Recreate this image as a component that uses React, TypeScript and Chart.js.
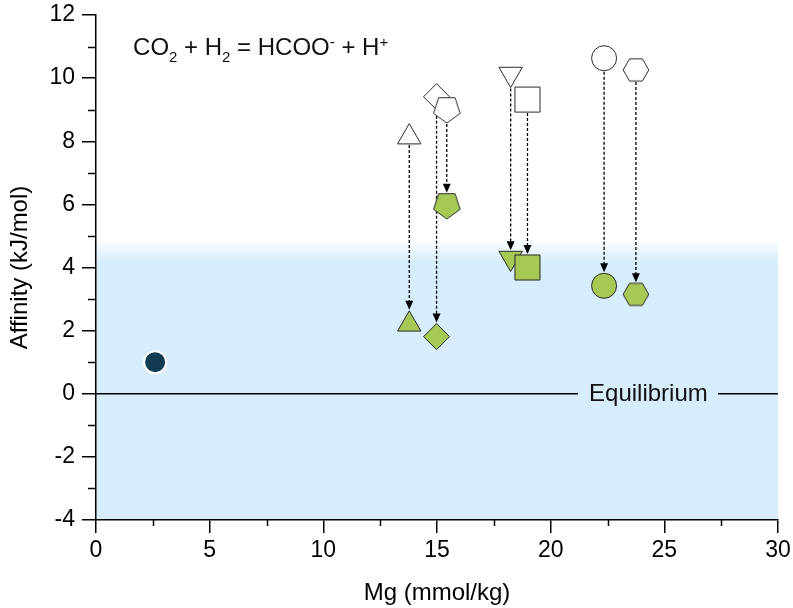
import React, { useEffect, useRef } from 'react';
import { Chart, registerables } from 'chart.js';

Chart.register(...registerables);

const FONT = '"Liberation Sans", Arial, Helvetica, sans-serif';

// ---- axes ----
const xTitle = 'Mg (mmol/kg)';
const yTitle = 'Affinity (kJ/mol)';
const xMin = 0;
const xMax = 30;
const xStep = 5;
const yMin = -4;
const yMax = 12;
const yStep = 2;
const xMinorTicks = [2.5, 7.5, 12.5, 17.5, 22.5, 27.5];
const yMinorTicks = [-3, -1, 1, 3, 5, 7, 9, 11];

// ---- data ----
const sampleShapes = ['triangle', 'diamond', 'pentagon', 'triangleDown', 'square', 'circle', 'hexagon'];
const sampleMg = [13.78, 14.98, 15.43, 18.24, 18.98, 22.35, 23.75];
const initialAffinity = [8.13, 9.41, 9.02, 10.13, 9.32, 10.63, 10.26];
const finalAffinity = [2.2, 1.81, 5.98, 4.3, 4.0, 3.42, 3.15];

const fluidMg = [2.6];
const fluidAffinity = [1.0];

// ---- annotations ----
const equilibriumLeft = [0, 21.2];
const equilibriumRight = [27.36, 30];
const equilibriumLabel = 'Equilibrium';
const equilibriumLabelX = 24.3;
const shadeTop = 4.95;
const shadeSolid = 4.15;
const reactionX = 1.63;
const reactionY = 10.73;
// reaction text pieces: [text, mode] mode: n normal, b subscript, p superscript
const reactionParts: [string, string][] = [
  ['CO', 'n'], ['2', 'b'], [' + H', 'n'], ['2', 'b'], [' = HCOO', 'n'], ['-', 'p'], [' + H', 'n'], ['+', 'p'],
];

const GREEN = '#a6c955';
const EDGE = '#2a2a2a';
const NAVY = '#113b52';
const SHADE = 'rgba(215,237,251,1)';

function polygonCanvas(sides: number, R: number, start: number, fill: string, stroke: string, lw: number) {
  const size = Math.ceil(2 * R + 2 * lw + 2);
  const c = document.createElement('canvas');
  c.width = size;
  c.height = size;
  const ctx = c.getContext('2d')!;
  ctx.beginPath();
  for (let i = 0; i < sides; i++) {
    const a = start + (i * 2 * Math.PI) / sides;
    const px = size / 2 + R * Math.cos(a);
    const py = size / 2 + R * Math.sin(a);
    if (i === 0) ctx.moveTo(px, py);
    else ctx.lineTo(px, py);
  }
  ctx.closePath();
  ctx.fillStyle = fill;
  ctx.fill();
  ctx.lineWidth = lw;
  ctx.strokeStyle = stroke;
  ctx.stroke();
  return c;
}

type ShapeInfo = { style: (fill: string) => any; radius: number; rotation: number; top: number; bottom: number };

function buildShapes(): Record<string, ShapeInfo> {
  const tri = 13.5;
  const pentR = 14;
  const hexR = 12.8;
  return {
    triangle: { style: () => 'triangle', radius: tri, rotation: 0, top: tri, bottom: tri / 2 },
    triangleDown: { style: () => 'triangle', radius: tri, rotation: 180, top: tri / 2, bottom: tri },
    diamond: { style: () => 'rectRot', radius: 13, rotation: 0, top: 13, bottom: 13 },
    square: { style: () => 'rect', radius: 17.7, rotation: 0, top: 12.5, bottom: 12.5 },
    circle: { style: () => 'circle', radius: 12.5, rotation: 0, top: 12.5, bottom: 12.5 },
    pentagon: {
      style: (fill: string) => polygonCanvas(5, pentR, Math.PI / 2, fill, EDGE, 1),
      radius: pentR, rotation: 0, top: pentR * Math.cos(Math.PI / 5), bottom: pentR,
    },
    hexagon: {
      style: (fill: string) => polygonCanvas(6, hexR, 0, fill, EDGE, 1),
      radius: hexR, rotation: 0, top: hexR * Math.sqrt(3) / 2, bottom: hexR * Math.sqrt(3) / 2,
    },
  };
}

export default function App() {
  const ref = useRef<HTMLCanvasElement>(null);

  useEffect(() => {
    const canvas = ref.current;
    if (!canvas) return;
    const SHAPES = buildShapes();
    const infos = sampleShapes.map((s) => SHAPES[s]);

    const backgroundPlugin = {
      id: 'shade',
      beforeDraw(chart: any) {
        const { ctx, chartArea, scales } = chart;
        const y = scales.y;
        const top = y.getPixelForValue(shadeTop);
        const solid = y.getPixelForValue(shadeSolid);
        const g = ctx.createLinearGradient(0, top, 0, solid);
        g.addColorStop(0, 'rgba(215,237,251,0)');
        g.addColorStop(1, SHADE);
        ctx.save();
        ctx.fillStyle = g;
        ctx.fillRect(chartArea.left, top, chartArea.right - chartArea.left, chartArea.bottom - top);
        ctx.restore();
      },
    };

    const arrowPlugin = {
      id: 'arrows',
      beforeDatasetsDraw(chart: any) {
        const { ctx, scales } = chart;
        const x = scales.x;
        const y = scales.y;
        ctx.save();
        ctx.strokeStyle = '#000';
        ctx.fillStyle = '#000';
        sampleMg.forEach((mg, i) => {
          const info = infos[i];
          const px = x.getPixelForValue(mg);
          const y0 = y.getPixelForValue(initialAffinity[i]) + info.bottom + 1;
          const y1 = y.getPixelForValue(finalAffinity[i]) - info.top - 1;
          ctx.lineWidth = 1.3;
          ctx.setLineDash([3, 2]);
          ctx.beginPath();
          ctx.moveTo(px, y0);
          ctx.lineTo(px, y1 - 7);
          ctx.stroke();
          ctx.setLineDash([]);
          ctx.beginPath();
          ctx.moveTo(px, y1);
          ctx.lineTo(px - 4, y1 - 9);
          ctx.lineTo(px + 4, y1 - 9);
          ctx.closePath();
          ctx.fill();
        });
        ctx.restore();
      },
    };

    const annotationPlugin = {
      id: 'annot',
      afterDraw(chart: any) {
        const { ctx, scales, chartArea } = chart;
        const x = scales.x;
        const y = scales.y;
        ctx.save();
        // minor ticks
        ctx.strokeStyle = '#000';
        ctx.lineWidth = 1.5;
        yMinorTicks.forEach((v) => {
          const py = Math.round(y.getPixelForValue(v)) + 0.5;
          ctx.beginPath();
          ctx.moveTo(chartArea.left - 8, py);
          ctx.lineTo(chartArea.left, py);
          ctx.stroke();
        });
        xMinorTicks.forEach((v) => {
          const px = Math.round(x.getPixelForValue(v)) + 0.5;
          ctx.beginPath();
          ctx.moveTo(px, chartArea.bottom);
          ctx.lineTo(px, chartArea.bottom + 6);
          ctx.stroke();
        });
        // equilibrium label
        ctx.fillStyle = '#111';
        ctx.font = `24px ${FONT}`;
        ctx.textAlign = 'center';
        ctx.textBaseline = 'middle';
        ctx.fillText(equilibriumLabel, x.getPixelForValue(equilibriumLabelX), y.getPixelForValue(0) + 1);
        // reaction
        ctx.textAlign = 'left';
        ctx.textBaseline = 'alphabetic';
        let cx = x.getPixelForValue(reactionX);
        const base = y.getPixelForValue(reactionY);
        reactionParts.forEach(([t, m]) => {
          if (m === 'n') {
            ctx.font = `24px ${FONT}`;
            ctx.fillText(t, cx, base);
          } else if (m === 'b') {
            ctx.font = `15px ${FONT}`;
            ctx.fillText(t, cx, base + 7);
          } else {
            ctx.font = `15px ${FONT}`;
            ctx.fillText(t, cx, base - 8);
          }
          cx += ctx.measureText(t).width;
        });
        ctx.restore();
      },
    };

    const chart = new Chart(canvas, {
      type: 'scatter',
      data: {
        datasets: [
          {
            label: 'fluid',
            data: fluidMg.map((v, i) => ({ x: v, y: fluidAffinity[i] })),
            pointStyle: 'circle',
            pointRadius: 11,
            pointBackgroundColor: NAVY,
            pointBorderColor: '#ffffff',
            pointBorderWidth: 2,
          },
          {
            label: 'final',
            data: sampleMg.map((v, i) => ({ x: v, y: finalAffinity[i] })),
            pointStyle: infos.map((s) => s.style(GREEN)),
            pointRadius: infos.map((s) => s.radius),
            pointRotation: infos.map((s) => s.rotation),
            pointBackgroundColor: GREEN,
            pointBorderColor: EDGE,
            pointBorderWidth: 1,
          },
          {
            label: 'initial',
            data: sampleMg.map((v, i) => ({ x: v, y: initialAffinity[i] })),
            pointStyle: infos.map((s) => s.style('#ffffff')),
            pointRadius: infos.map((s) => s.radius),
            pointRotation: infos.map((s) => s.rotation),
            pointBackgroundColor: '#ffffff',
            pointBorderColor: EDGE,
            pointBorderWidth: 1,
          },
          {
            type: 'line',
            label: 'eqL',
            data: equilibriumLeft.map((v) => ({ x: v, y: 0 })),
            borderColor: '#000',
            borderWidth: 1.6,
            pointRadius: 0,
            showLine: true,
          } as any,
          {
            type: 'line',
            label: 'eqR',
            data: equilibriumRight.map((v) => ({ x: v, y: 0 })),
            borderColor: '#000',
            borderWidth: 1.6,
            pointRadius: 0,
            showLine: true,
          } as any,
        ],
      },
      options: {
        animation: false,
        responsive: false,
        events: [],
        layout: { autoPadding: false, padding: { top: 15, right: 15, left: 0, bottom: 0 } },
        plugins: { legend: { display: false }, tooltip: { enabled: false } },
        scales: {
          x: {
            type: 'linear',
            min: xMin,
            max: xMax,
            afterFit: (s: any) => { s.height = 88; s.paddingLeft = 0; s.paddingRight = 0; },
            ticks: { stepSize: xStep, color: '#000', font: { family: FONT, size: 23 }, padding: 4 },
            grid: { display: true, drawOnChartArea: false, drawTicks: true, tickLength: 13, color: '#000', lineWidth: 1.5 },
            border: { display: true, color: '#000', width: 1.5 },
            title: { display: true, text: xTitle, color: '#000', font: { family: FONT, size: 24 }, padding: { top: 0, bottom: 0 } },
          },
          y: {
            type: 'linear',
            min: yMin,
            max: yMax,
            afterFit: (s: any) => { s.width = 96; s.paddingTop = 0; s.paddingBottom = 0; },
            ticks: { stepSize: yStep, color: '#000', font: { family: FONT, size: 23 }, padding: 7 },
            grid: { display: true, drawOnChartArea: false, drawTicks: true, tickLength: 14, color: '#000', lineWidth: 1.5 },
            border: { display: true, color: '#000', width: 1.5 },
            title: { display: true, text: yTitle, color: '#000', font: { family: FONT, size: 24 }, padding: { top: 6, bottom: 0 } },
          },
        },
      } as any,
      plugins: [backgroundPlugin, arrowPlugin, annotationPlugin],
    });
    return () => chart.destroy();
  }, []);

  return (
    <div style={{ position: 'absolute', left: 0, top: 0, width: 793, height: 608, background: '#fff' }}>
      <canvas ref={ref} width={793} height={608} style={{ display: 'block' }} />
    </div>
  );
}
